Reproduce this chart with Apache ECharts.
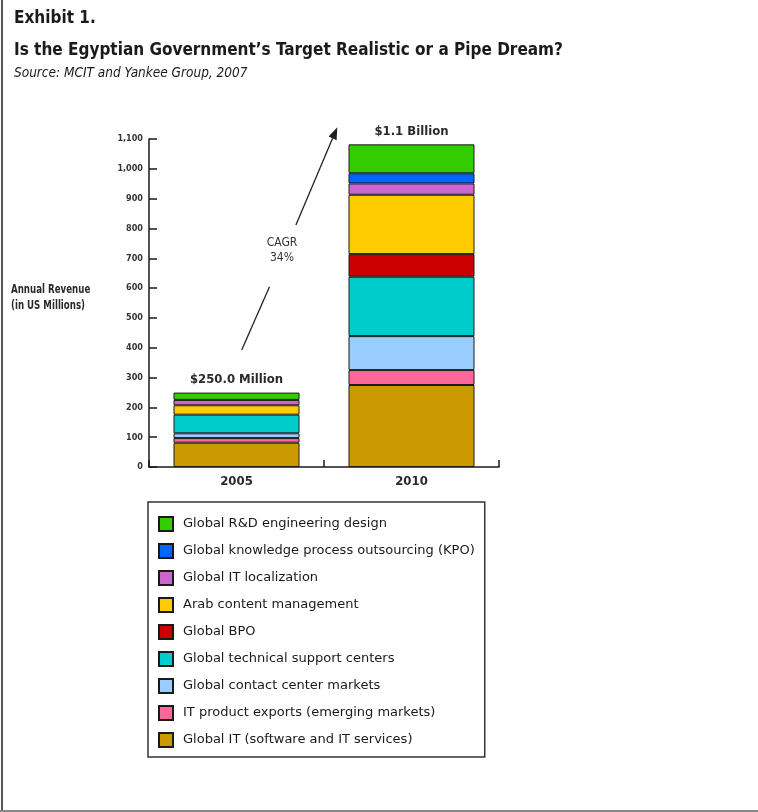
<!DOCTYPE html>
<html>
<head>
<meta charset="utf-8">
<script src="https://cdn.jsdelivr.net/npm/echarts@6/dist/echarts.min.js"></script>
<style>html,body{margin:0;padding:0;background:#fff}#c{width:758px;height:812px}</style>
</head>
<body>
<div id="c"></div>
<script>
// ---- data ----
var categories = ['2005', '2010'];
var yTicks = [0, 100, 200, 300, 400, 500, 600, 700, 800, 900, 1000, 1100];
var totalLabels = ['$250.0 Million', '$1.1 Billion'];
var seriesNames = [
  'Global IT (software and IT services)',
  'IT product exports (emerging markets)',
  'Global contact center markets',
  'Global technical support centers',
  'Global BPO',
  'Arab content management',
  'Global IT localization',
  'Global knowledge process outsourcing (KPO)',
  'Global R&D engineering design'
];
var globalIT     = [81.5, 275];
var itProduct    = [15.5, 50];
var contactCtr   = [16, 114];
var techSupport  = [62.5, 199];
var globalBPO    = [null, 76];
var arabContent  = [31.5, 199];
var localization = [18, 38];
var kpo          = [null, 34];
var rnd          = [24.5, 97];
var seriesValues = [globalIT, itProduct, contactCtr, techSupport, globalBPO, arabContent, localization, kpo, rnd];
var seriesColors = ['#cc9900', '#ff6699', '#99ccff', '#00cccc', '#cc0000', '#ffcc00', '#cc66cc', '#0066ff', '#33cc00'];

var FONT = "'DejaVu Sans Condensed', 'DejaVu Sans', sans-serif";
var FONT_W = "'DejaVu Sans', sans-serif";
var chart = echarts.init(document.getElementById('c'), null, {renderer: 'canvas'});

var series = seriesNames.map(function (n, i) {
  var s = {
    name: n,
    type: 'bar',
    stack: 'total',
    barWidth: 126,
    data: seriesValues[i],
    itemStyle: {color: seriesColors[i], borderColor: '#1a1a1a', borderWidth: 1},
    emphasis: {disabled: true},
    animation: false
  };
  if (i === seriesNames.length - 1) {
    s.label = {
      show: true, position: 'top', distance: 6,
      formatter: function (p) { return totalLabels[p.dataIndex]; },
      fontFamily: FONT, fontSize: 13, fontWeight: 'bold', color: '#2a2a2a'
    };
  }
  return s;
});

var option = {
  animation: false,
  textStyle: {fontFamily: FONT},
  title: [
    {text: 'Exhibit 1.', left: 9, top: 5, textStyle: {fontFamily: FONT, fontSize: 17, fontWeight: 'bold', color: '#1a1a1a'}},
    {text: 'Is the Egyptian Government\u2019s Target Realistic or a Pipe Dream?', left: 9, top: 37, textStyle: {fontFamily: FONT, fontSize: 17, fontWeight: 'bold', color: '#1a1a1a'}},
    {text: 'Source: MCIT and Yankee Group, 2007', left: 9, top: 61, textStyle: {fontFamily: FONT, fontSize: 13.5, fontStyle: 'italic', fontWeight: 'normal', color: '#1a1a1a'}}
  ],
  grid: {left: 149, right: 259, top: 139, bottom: 345, containLabel: false},
  xAxis: {
    type: 'category', data: categories, boundaryGap: true,
    axisLine: {lineStyle: {color: '#1a1a1a', width: 1.5}},
    axisTick: {show: true, inside: true, length: 7, alignWithLabel: false, lineStyle: {color: '#1a1a1a', width: 1.5}},
    axisLabel: {fontFamily: FONT, fontSize: 13, fontWeight: 'bold', color: '#2a2a2a', margin: 8}
  },
  yAxis: {
    type: 'value', min: yTicks[0], max: yTicks[yTicks.length - 1], interval: yTicks[1] - yTicks[0],
    axisLine: {show: true, lineStyle: {color: '#1a1a1a', width: 1.5}},
    axisTick: {show: true, inside: true, length: 8, lineStyle: {color: '#1a1a1a', width: 1.5}},
    splitLine: {show: false},
    axisLabel: {
      fontFamily: FONT, fontSize: 9, fontWeight: 'bold', color: '#333', margin: 6,
      formatter: function (v) { return v.toLocaleString('en-US'); }
    }
  },
  legend: {
    orient: 'vertical', left: 148, top: 502,
    data: seriesNames.slice().reverse(),
    icon: 'rect',
    itemWidth: 14, itemHeight: 14, itemGap: 11,
    padding: [14, 10, 9, 10],
    borderColor: '#333', borderWidth: 1.5,
    selectedMode: false,
    textStyle: {fontFamily: FONT_W, fontSize: 13, color: '#1a1a1a', padding: [0, 0, 0, 5]}
  },
  graphic: [
    {type: 'line', shape: {x1: 2, y1: 0, x2: 2, y2: 812}, style: {stroke: '#555', lineWidth: 2}},
    {type: 'line', shape: {x1: 0, y1: 811, x2: 758, y2: 811}, style: {stroke: '#888', lineWidth: 2}},
    {type: 'text', x: 11, y: 282, scaleX: 0.74, style: {text: 'Annual Revenue\n(in US Millions)', font: 'bold 13px ' + FONT, fill: '#2a2a2a', lineHeight: 16}},
    {type: 'line', shape: {x1: 241.7, y1: 350, x2: 269.5, y2: 286.7}, style: {stroke: '#222', lineWidth: 1.3}},
    {type: 'line', shape: {x1: 295.9, y1: 225, x2: 332.6, y2: 138.3}, style: {stroke: '#222', lineWidth: 1.3}},
    {type: 'polygon', shape: {points: [[337.3, 127.3], [336.6, 140.2], [328.6, 136.6]]}, style: {fill: '#222'}},
    {type: 'text', x: 282, y: 250, style: {text: 'CAGR\n34%', font: '12px ' + FONT, fill: '#333', align: 'center', verticalAlign: 'middle', lineHeight: 15}}
  ],
  series: series
};
chart.setOption(option);
</script>
</body>
</html>
